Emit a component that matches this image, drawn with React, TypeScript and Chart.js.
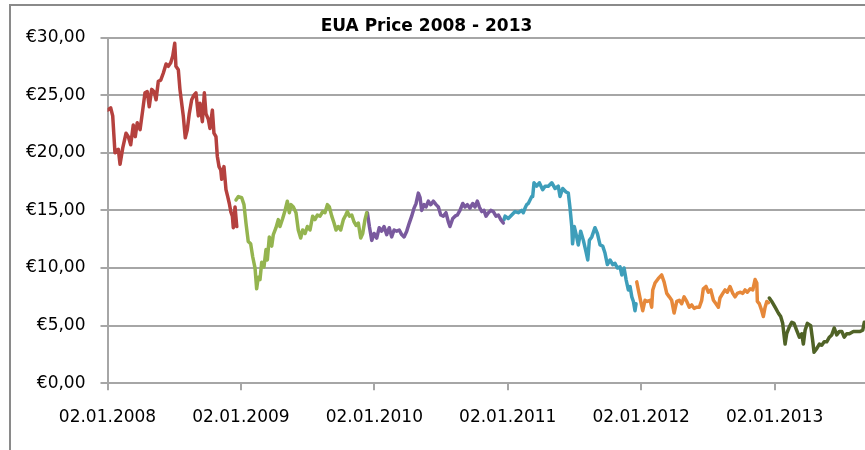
import React, { useEffect, useRef } from "react";
import { Chart, registerables } from "chart.js";
Chart.register(...registerables);

const chartTitle = "EUA Price 2008 - 2013";
const yearTicks = [2008, 2009, 2010, 2011, 2012, 2013];
const yearTickPrefix = "02.01.";
const priceTicks = [0, 5, 10, 15, 20, 25, 30];
const xMin = 2008;
const xMax = 2013.678;

// [decimal year, price in EUR]
const eua2008: [number, number][] = [
  [2008.0, 23.7], [2008.024, 23.9], [2008.039, 23.2], [2008.056, 20.0], [2008.081, 20.3], [2008.094, 19.0],
  [2008.114, 20.4], [2008.139, 21.7], [2008.156, 21.4], [2008.174, 20.7], [2008.193, 22.4], [2008.208, 21.4],
  [2008.223, 22.6], [2008.244, 22.0], [2008.264, 23.7], [2008.281, 25.2], [2008.298, 25.3], [2008.313, 24.0],
  [2008.331, 25.5], [2008.349, 25.3], [2008.364, 24.6], [2008.381, 26.2], [2008.399, 26.3], [2008.418, 26.9],
  [2008.439, 27.7], [2008.456, 27.5], [2008.474, 27.8], [2008.489, 28.4], [2008.504, 29.5], [2008.513, 27.5],
  [2008.531, 27.2], [2008.543, 25.5], [2008.556, 24.3], [2008.568, 23.2], [2008.583, 21.3], [2008.598, 22.0],
  [2008.613, 23.4], [2008.631, 24.6], [2008.648, 25.0], [2008.663, 25.2], [2008.681, 23.2], [2008.693, 24.3],
  [2008.711, 22.7], [2008.726, 25.2], [2008.738, 23.4], [2008.756, 22.9], [2008.768, 22.1], [2008.786, 23.7],
  [2008.798, 21.7], [2008.813, 21.4], [2008.823, 19.7], [2008.836, 18.8], [2008.849, 18.5], [2008.856, 17.7],
  [2008.873, 18.8], [2008.888, 16.8], [2008.901, 16.2], [2008.913, 15.6], [2008.924, 14.9], [2008.936, 14.5],
  [2008.943, 13.5], [2008.956, 15.3], [2008.969, 13.6],
];

const eua2009: [number, number][] = [
  [2008.963, 15.9], [2008.981, 16.2], [2009.006, 16.1], [2009.023, 15.5], [2009.038, 13.9], [2009.055, 12.3],
  [2009.073, 12.1], [2009.088, 11.0], [2009.106, 10.0], [2009.118, 8.2], [2009.13, 9.2], [2009.143, 9.0],
  [2009.156, 10.5], [2009.173, 10.1], [2009.188, 11.6], [2009.198, 10.7], [2009.213, 12.7], [2009.231, 11.9],
  [2009.243, 12.9], [2009.263, 13.5], [2009.28, 14.2], [2009.293, 13.6], [2009.313, 14.3], [2009.331, 15.0],
  [2009.348, 15.8], [2009.363, 14.8], [2009.376, 15.5], [2009.393, 15.3], [2009.413, 14.8], [2009.43, 13.3],
  [2009.448, 12.6], [2009.463, 13.3], [2009.481, 13.0], [2009.498, 13.6], [2009.518, 13.3], [2009.538, 14.5],
  [2009.555, 14.2], [2009.573, 14.6], [2009.593, 14.5], [2009.613, 14.9], [2009.63, 14.8], [2009.648, 15.5],
  [2009.663, 15.3], [2009.681, 14.5], [2009.698, 13.9], [2009.713, 13.3], [2009.73, 13.6], [2009.748, 13.3],
  [2009.768, 14.2], [2009.786, 14.6], [2009.798, 14.9], [2009.813, 14.5], [2009.831, 14.6], [2009.848, 14.0],
  [2009.863, 13.7], [2009.88, 13.9], [2009.898, 12.6], [2009.913, 13.0], [2009.93, 14.2], [2009.943, 14.8],
];

const eua2010: [number, number][] = [
  [2009.948, 14.8], [2009.963, 13.6], [2009.981, 12.4], [2009.998, 13.0], [2010.018, 12.6], [2010.037, 13.5],
  [2010.055, 13.2], [2010.073, 13.6], [2010.093, 12.9], [2010.112, 13.5], [2010.13, 12.7], [2010.148, 13.3],
  [2010.168, 13.2], [2010.187, 13.3], [2010.205, 12.9], [2010.223, 12.7], [2010.243, 13.2], [2010.262, 13.9],
  [2010.28, 14.5], [2010.298, 15.2], [2010.313, 15.6], [2010.33, 16.5], [2010.343, 16.1], [2010.355, 15.0],
  [2010.373, 15.5], [2010.388, 15.3], [2010.405, 15.8], [2010.423, 15.5], [2010.442, 15.8], [2010.463, 15.5],
  [2010.48, 15.3], [2010.498, 14.6], [2010.517, 14.5], [2010.537, 14.8], [2010.555, 14.0], [2010.567, 13.6],
  [2010.588, 14.3], [2010.605, 14.5], [2010.622, 14.6], [2010.642, 15.0], [2010.663, 15.6], [2010.68, 15.3],
  [2010.697, 15.5], [2010.717, 15.2], [2010.738, 15.6], [2010.755, 15.3], [2010.772, 15.8], [2010.787, 15.3],
  [2010.805, 14.9], [2010.822, 15.0], [2010.837, 14.5], [2010.855, 14.8], [2010.873, 15.0], [2010.892, 14.9],
  [2010.912, 14.5], [2010.93, 14.6], [2010.948, 14.2], [2010.967, 13.9],
];

const eua2011: [number, number][] = [
  [2010.972, 14.2], [2010.98, 14.5], [2011.004, 14.3], [2011.03, 14.6], [2011.055, 14.9], [2011.079, 14.8],
  [2011.092, 14.9], [2011.105, 15.0], [2011.117, 14.8], [2011.13, 15.2], [2011.142, 15.5], [2011.154, 15.6],
  [2011.167, 15.9], [2011.18, 16.2], [2011.187, 16.2], [2011.197, 17.4], [2011.217, 17.1], [2011.237, 17.4],
  [2011.262, 16.8], [2011.28, 17.1], [2011.304, 17.1], [2011.33, 17.4], [2011.355, 16.9], [2011.379, 17.1],
  [2011.392, 16.2], [2011.412, 16.9], [2011.437, 16.6], [2011.454, 16.5], [2011.467, 15.2], [2011.48, 13.6],
  [2011.486, 12.1], [2011.499, 13.6], [2011.517, 12.7], [2011.529, 12.0], [2011.547, 13.2], [2011.567, 12.4],
  [2011.587, 11.4], [2011.6, 10.7], [2011.612, 12.4], [2011.63, 12.7], [2011.654, 13.5], [2011.672, 13.0],
  [2011.692, 12.0], [2011.712, 11.9], [2011.729, 11.3], [2011.747, 10.3], [2011.767, 10.7], [2011.787, 10.3],
  [2011.804, 10.4], [2011.822, 10.0], [2011.842, 10.1], [2011.855, 9.4], [2011.872, 10.0], [2011.887, 9.0],
  [2011.904, 8.1], [2011.917, 8.4], [2011.93, 7.5], [2011.942, 7.1], [2011.954, 6.3], [2011.962, 6.9],
];

const eua2012: [number, number][] = [
  [2011.967, 8.8], [2011.979, 8.1], [2011.997, 7.1], [2012.012, 6.3], [2012.029, 7.2], [2012.046, 7.1],
  [2012.067, 7.2], [2012.079, 6.6], [2012.087, 8.1], [2012.104, 8.7], [2012.129, 9.1], [2012.154, 9.4],
  [2012.172, 8.8], [2012.192, 7.8], [2012.211, 7.5], [2012.229, 7.2], [2012.247, 6.1], [2012.267, 7.1],
  [2012.286, 7.2], [2012.304, 6.9], [2012.322, 7.5], [2012.342, 7.1], [2012.361, 6.6], [2012.379, 6.8],
  [2012.397, 6.5], [2012.417, 6.6], [2012.436, 6.6], [2012.454, 7.2], [2012.466, 8.2], [2012.486, 8.4],
  [2012.504, 7.9], [2012.522, 8.1], [2012.542, 7.2], [2012.561, 6.9], [2012.579, 6.6], [2012.591, 7.4],
  [2012.612, 7.8], [2012.629, 8.1], [2012.646, 7.9], [2012.666, 8.4], [2012.687, 7.8], [2012.704, 7.5],
  [2012.721, 7.8], [2012.741, 7.9], [2012.762, 7.8], [2012.779, 8.1], [2012.796, 7.9], [2012.817, 8.2],
  [2012.837, 8.1], [2012.854, 9.0], [2012.867, 8.7], [2012.871, 7.1], [2012.886, 6.9], [2012.904, 6.3],
  [2012.916, 5.8], [2012.929, 6.6], [2012.942, 7.1], [2012.954, 7.0],
];

const eua2013: [number, number][] = [
  [2012.961, 7.4], [2012.979, 7.1], [2013.004, 6.6], [2013.028, 6.1], [2013.046, 5.8], [2013.061, 5.2],
  [2013.079, 3.4], [2013.091, 4.3], [2013.111, 4.9], [2013.129, 5.3], [2013.146, 5.2], [2013.166, 4.6],
  [2013.186, 4.0], [2013.204, 4.3], [2013.216, 3.4], [2013.229, 4.6], [2013.246, 5.2], [2013.271, 5.0],
  [2013.286, 3.7], [2013.296, 2.7], [2013.316, 3.0], [2013.336, 3.4], [2013.354, 3.3], [2013.372, 3.6],
  [2013.391, 3.6], [2013.411, 4.0], [2013.429, 4.2], [2013.447, 4.8], [2013.466, 4.2], [2013.486, 4.5],
  [2013.504, 4.5], [2013.522, 4.0], [2013.541, 4.3], [2013.561, 4.3], [2013.591, 4.5], [2013.616, 4.5],
  [2013.642, 4.5], [2013.661, 4.6], [2013.673, 5.3],
];

const seriesData = [eua2008, eua2009, eua2010, eua2011, eua2012, eua2013];
const seriesNames = ["2008", "2009", "2010", "2011", "2012", "2013"];
const seriesColors = ["#B5413E", "#94B44F", "#7A5A9E", "#3E9EBA", "#E6883A", "#506327"];

const gridColor = "#a6a6a6";
const tickFont = { family: "'DejaVu Sans', sans-serif", size: 17 };

export default function App() {
  const canvasRef = useRef<HTMLCanvasElement>(null);

  useEffect(() => {
    const canvas = canvasRef.current;
    if (!canvas) return;
    const chart = new Chart(canvas, {
      type: "line",
      data: {
        datasets: seriesData.map((s, i) => ({
          label: seriesNames[i],
          data: s.map(([x, y]) => ({ x, y })),
          borderColor: seriesColors[i],
          backgroundColor: seriesColors[i],
          borderWidth: 3.5,
          borderJoinStyle: "round" as const,
          borderCapStyle: "round" as const,
          pointRadius: 0,
          tension: 0,
          fill: false,
        })),
      },
      options: {
        animation: false,
        responsive: false,
        devicePixelRatio: 1,
        layout: { padding: { top: 37.5, left: 0, right: 0, bottom: 0 } },
        plugins: {
          legend: { display: false },
          title: { display: false },
          tooltip: { enabled: false },
        },
        scales: {
          x: {
            type: "linear",
            min: xMin,
            max: xMax,
            afterFit: (s: any) => {
              s.height = 66.7;
            },
            afterBuildTicks: (s: any) => {
              s.ticks = yearTicks.map((v) => ({ value: v }));
            },
            ticks: {
              autoSkip: false,
              maxRotation: 0,
              minRotation: 0,
              color: "#000",
              font: tickFont,
              padding: 17,
              callback: (v: any) => `${yearTickPrefix}${v}`,
            },
            grid: {
              drawOnChartArea: false,
              drawTicks: true,
              tickLength: 7,
              color: gridColor,
              lineWidth: 2,
            },
            border: { color: gridColor, width: 2 },
          },
          y: {
            type: "linear",
            min: 0,
            max: 30,
            afterFit: (s: any) => {
              s.width = 107.5;
            },
            afterBuildTicks: (s: any) => {
              s.ticks = priceTicks.map((v) => ({ value: v }));
            },
            ticks: {
              color: "#000",
              font: tickFont,
              padding: 15,
              callback: (v: any) => "€" + Number(v).toFixed(2).replace(".", ","),
            },
            grid: {
              color: gridColor,
              lineWidth: 2,
              tickLength: 7,
              drawTicks: true,
            },
            border: { color: gridColor, width: 2 },
          },
        },
      },
    });
    return () => chart.destroy();
  }, []);

  return (
    <div
      style={{
        position: "fixed",
        left: 0,
        top: 0,
        width: 865,
        height: 450,
        background: "#fff",
        overflow: "hidden",
      }}
    >
      <canvas ref={canvasRef} width={865} height={450} style={{ position: "absolute", left: 0, top: 0 }} />
      <div
        style={{
          position: "absolute",
          left: 9,
          top: 4,
          width: 900,
          height: 500,
          border: "2px solid #8a8a8a",
          pointerEvents: "none",
        }}
      />
      <div
        style={{
          position: "absolute",
          left: 0,
          top: 15,
          width: 853,
          textAlign: "center",
          fontFamily: "'DejaVu Sans', sans-serif",
          fontWeight: "bold",
          fontSize: 17,
          lineHeight: "normal",
          color: "#000",
        }}
      >
        {chartTitle}
      </div>
    </div>
  );
}
